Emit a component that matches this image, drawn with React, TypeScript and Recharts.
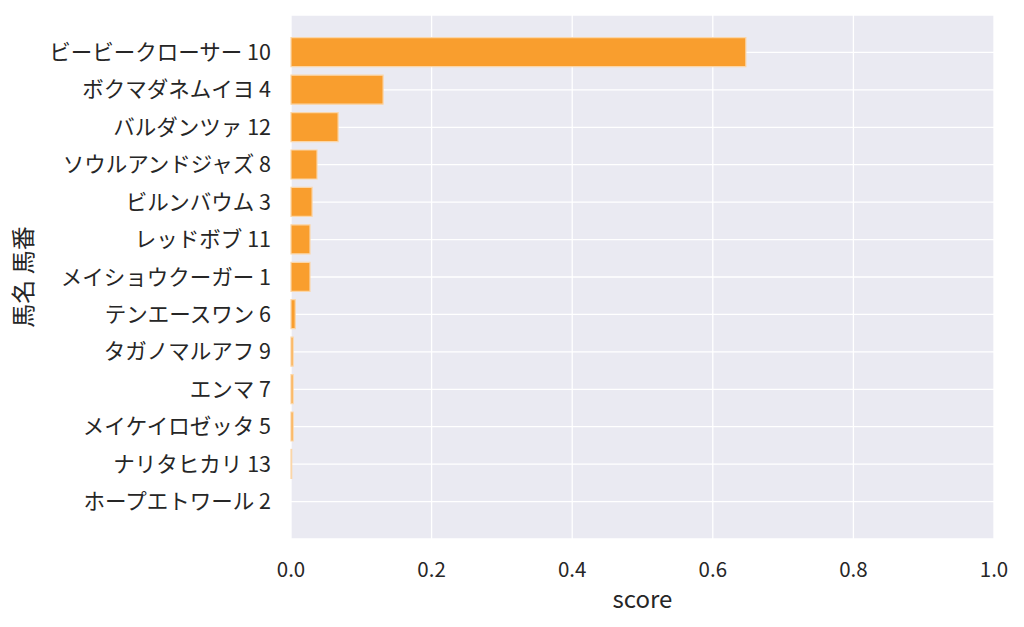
import React from "react";
import { Bar, BarChart, CartesianGrid, Label, XAxis, YAxis } from "recharts";

const horses = [
  "ビービークローサー 10",
  "ボクマダネムイヨ 4",
  "バルダンツァ 12",
  "ソウルアンドジャズ 8",
  "ビルンバウム 3",
  "レッドボブ 11",
  "メイショウクーガー 1",
  "テンエースワン 6",
  "タガノマルアフ 9",
  "エンマ 7",
  "メイケイロゼッタ 5",
  "ナリタヒカリ 13",
  "ホープエトワール 2",
];

const scores = [0.647, 0.131, 0.067, 0.037, 0.03, 0.027, 0.027, 0.006, 0.003, 0.003, 0.003, 0.001, 0.0];

const xTicks = [0, 0.2, 0.4, 0.6, 0.8, 1.0];

const data = horses.map((name, i) => ({ name, score: scores[i] }));

const font = "'Noto Sans CJK JP', 'Noto Sans', sans-serif";
const textColor = "#262626";

export default function App() {
  return (
    <div style={{ position: "absolute", left: 0, top: 0, background: "#fff" }}>
      <BarChart
        width={1024}
        height={627}
        data={data}
        layout="vertical"
        margin={{ top: 15, right: 30, bottom: 0, left: 0 }}
        barSize={29}
      >
        <CartesianGrid stroke="#ffffff" strokeWidth={1.3} fill="#EAEAF2" fillOpacity={1} />
        <XAxis
          type="number"
          dataKey="score"
          domain={[0, 1]}
          ticks={xTicks}
          tickFormatter={(v: number) => v.toFixed(1)}
          axisLine={false}
          tickLine={false}
          tickSize={0}
          tickMargin={23}
          height={88}
          tick={{ fill: textColor, fontSize: 20.5, fontFamily: font }}
        >
          <Label
            value="score"
            position="insideBottom"
            offset={19}
            style={{ fill: textColor, fontSize: 24, fontFamily: font }}
          />
        </XAxis>
        <YAxis
          type="category"
          dataKey="name"
          width={291}
          axisLine={false}
          tickLine={false}
          tickSize={0}
          tickMargin={20}
          interval={0}
          padding={{ top: 18.7, bottom: 18.7 }}
          tick={{ fill: textColor, fontSize: 21.5, fontFamily: font }}
        >
          <Label
            value="馬名 馬番"
            angle={-90}
            position="insideLeft"
            offset={23}
            style={{ fill: textColor, fontSize: 24, fontFamily: font, textAnchor: "middle" }}
          />
        </YAxis>
        <Bar
          dataKey="score"
          fill="#F99E2E"
          stroke="#FBD6A8"
          strokeWidth={1.2}
          isAnimationActive={false}
        />
      </BarChart>
    </div>
  );
}
